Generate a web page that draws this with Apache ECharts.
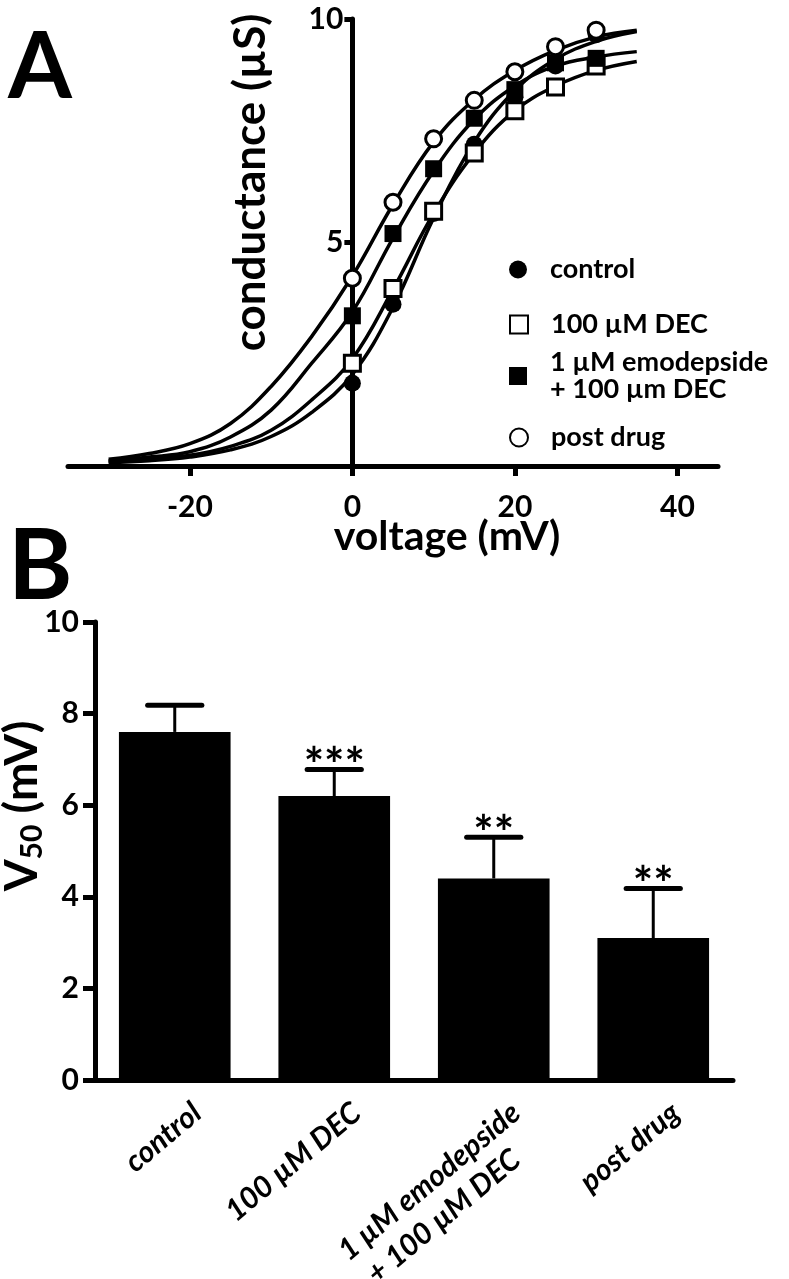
<!DOCTYPE html>
<html><head><meta charset="utf-8">
<script src="https://cdn.jsdelivr.net/npm/echarts@6/dist/echarts.min.js"></script>
<style>html,body{margin:0;padding:0;background:#fff}#c{width:789px;height:1279px}</style>
</head><body><div id="c"></div>
<script>
// ---- Panel A data ----
const voltages = [0, 5, 10, 15, 20, 25, 30];
const controlG = [1.85, 3.62, 5.65, 7.2, 8.25, 8.95, 9.65];
const decG = [2.3, 3.97, 5.7, 7.0, 7.95, 8.48, 8.95];
const emoG = [3.36, 5.2, 6.65, 7.78, 8.42, 9.02, 9.12];
const postG = [4.2, 5.9, 7.32, 8.18, 8.82, 9.38, 9.75];
// fitted curves
const fitV = [-30, -25, -20, -15, -10, -5, 0, 5, 10, 15, 20, 25, 30, 35];
const controlFit = [0.08, 0.12, 0.2, 0.36, 0.66, 1.2, 2.05, 3.55, 5.55, 7.25, 8.4, 9.1, 9.5, 9.72];
const decFit = [0.1, 0.15, 0.24, 0.44, 0.8, 1.48, 2.4, 3.95, 5.65, 7.0, 7.95, 8.5, 8.85, 9.05];
const emoFit = [0.12, 0.2, 0.32, 0.65, 1.25, 2.3, 3.45, 5.1, 6.6, 7.75, 8.5, 8.95, 9.15, 9.27];
const postFit = [0.15, 0.28, 0.5, 0.95, 1.78, 2.9, 4.25, 5.85, 7.25, 8.2, 8.85, 9.3, 9.6, 9.75];
const xTicksA = [-20, 0, 20, 40];
const xRangeA = [-35, 45];
const legendNames = ['control', '100 µM DEC', '1 µM emodepside\n+ 100 µm DEC', 'post drug'];
// ---- Panel B data ----
const categories = ['control', '100 µM DEC', '1 µM emodepside\n+ 100 µM DEC', 'post drug'];
const v50 = [7.6, 6.2, 4.4, 3.1];
const v50Sem = [0.58, 0.58, 0.9, 1.08];
const sig = ['', '***', '**', '**'];

const FONT = 'Lato';
const pairs = (xs, ys) => xs.map((x, i) => [x, ys[i]]);

const chart = echarts.init(document.getElementById('c'), null, {renderer: 'canvas'});

const gridA = {left: 68, top: 19, width: 650, height: 447};
const gridB = {left: 95, top: 622, width: 638, height: 458};
// y axis of panel A sits at voltage 0
const yAxisAOffset = -(0 - xRangeA[0]) / (xRangeA[1] - xRangeA[0]) * gridA.width;

const axisLineStyle = {color: '#000', width: 5};
const labelStyle = {color: '#000', fontFamily: FONT, fontWeight: 'bold', fontSize: 30};

function scatter(name, ys, symbol, filled) {
  return {
    type: 'scatter', name: name, xAxisIndex: 0, yAxisIndex: 0,
    data: pairs(voltages, ys), symbol: symbol, symbolSize: filled ? 17 : 16,
    itemStyle: filled ? {color: '#000', opacity: 1} : {color: '#fff', borderColor: '#000', borderWidth: 3, opacity: 1},
    z: 5
  };
}
function curve(ys) {
  return {
    type: 'line', xAxisIndex: 0, yAxisIndex: 0, data: pairs(fitV, ys),
    smooth: 0.4, symbol: 'none', lineStyle: {color: '#000', width: 3.5}, z: 3, silent: true
  };
}
const legendTops = [251, 306, 344, 419];
const legends = legendNames.map((n, i) => ({
  data: [n], left: 504, top: legendTops[i], orient: 'vertical',
  itemWidth: 18, itemHeight: 18, selectedMode: false,
  textStyle: {color: '#000', fontFamily: FONT, fontWeight: 'bold', fontSize: 27, lineHeight: 27, padding: [0, 0, 0, 18]}
}));

function renderErr(params, api) {
  const i = api.value(0);
  const m = api.value(1), e = api.value(2);
  const base = api.coord([i, m]);
  const top = api.coord([i, m + e]);
  const half = api.size([1, 0])[0] * 0.17;
  return {type: 'group', children: [
    {type: 'line', shape: {x1: base[0], y1: base[1], x2: top[0], y2: top[1]}, style: {stroke: '#000', lineWidth: 3}},
    {type: 'line', shape: {x1: top[0] - half, y1: top[1], x2: top[0] + half, y2: top[1]}, style: {stroke: '#000', lineWidth: 5, lineCap: 'round'}},
    {type: 'text', x: top[0], y: top[1] + 21, style: {text: sig[i], align: 'center', verticalAlign: 'bottom', font: 'bold 48px Lato', fill: '#000'}}
  ]};
}

// second line of a two-line category label sits a little back from the first
const catFormatter = v => v.split('\n').map((line, k) => k > 0 ? line + '{gap| }' : line).join('\n');

const option = {
  backgroundColor: '#fff',
  animation: false,
  legend: legends,
  graphic: [
    {type: 'text', left: 8, top: 22, style: {text: 'A', font: 'bold 92px Lato', fill: '#000'}},
    {type: 'text', left: 8, top: 518, style: {text: 'B', font: 'bold 98px Lato', fill: '#000'}}
  ],
  grid: [
    Object.assign({outerBoundsMode: 'none'}, gridA),
    Object.assign({outerBoundsMode: 'none'}, gridB)
  ],
  xAxis: [
    {
      type: 'value', gridIndex: 0, min: xRangeA[0], max: xRangeA[1],
      axisLine: {onZero: false, lineStyle: axisLineStyle},
      axisTick: {show: true, customValues: xTicksA, length: 10, lineStyle: {color: '#000', width: 5}},
      axisLabel: Object.assign({customValues: xTicksA, margin: 26}, labelStyle),
      splitLine: {show: false},
      name: 'voltage (mV)', nameLocation: 'middle', nameGap: 50, nameMoveOverlap: false,
      nameTextStyle: {color: '#000', fontFamily: FONT, fontWeight: 'bold', fontSize: 41, padding: [0, 0, 0, 108]}
    },
    {
      type: 'category', gridIndex: 1, data: categories,
      axisLine: {lineStyle: axisLineStyle},
      axisTick: {alignWithLabel: true, length: 12, lineStyle: {color: '#000', width: 5}},
      axisLabel: {rotate: 40, margin: 2, interval: 0, verticalAlign: 'top', padding: [17, 0, 0, 0],
        formatter: catFormatter,
        color: '#000', fontFamily: FONT, fontWeight: 'bold', fontStyle: 'italic', fontSize: 30, lineHeight: 36,
        rich: {gap: {width: 30, fontSize: 30, lineHeight: 36}}},
      splitLine: {show: false}
    }
  ],
  yAxis: [
    {
      type: 'value', gridIndex: 0, min: 0, max: 10, interval: 5, offset: yAxisAOffset,
      axisLine: {show: true, onZero: false, lineStyle: axisLineStyle},
      axisTick: {show: true, length: 8, lineStyle: {color: '#000', width: 5}},
      axisLabel: Object.assign({showMinLabel: false, margin: 9}, labelStyle),
      splitLine: {show: false},
      name: 'conductance (µS)', nameLocation: 'middle', nameGap: 80, nameMoveOverlap: false,
      nameTextStyle: {color: '#000', fontFamily: FONT, fontWeight: 'bold', fontSize: 44, padding: [0, 0, 0, 120]}
    },
    {
      type: 'value', gridIndex: 1, min: 0, max: 10, interval: 2,
      axisLine: {show: true, lineStyle: axisLineStyle},
      axisTick: {show: true, length: 12, lineStyle: {color: '#000', width: 5}},
      axisLabel: Object.assign({margin: 16}, labelStyle),
      splitLine: {show: false},
      name: '{v|V}{s|50}{v| (mV)}', nameLocation: 'middle', nameGap: 48, nameMoveOverlap: false,
      nameTextStyle: {color: '#000', padding: [0, 0, 0, 90], rich: {
        v: {fontFamily: FONT, fontWeight: 'bold', fontSize: 46, lineHeight: 50},
        s: {fontFamily: FONT, fontWeight: 'bold', fontSize: 30, lineHeight: 50, verticalAlign: 'bottom'}
      }}
    }
  ],
  series: [
    curve(controlFit), curve(decFit), curve(emoFit), curve(postFit),
    scatter(legendNames[0], controlG, 'circle', true),
    scatter(legendNames[1], decG, 'rect', false),
    scatter(legendNames[2], emoG, 'rect', true),
    scatter(legendNames[3], postG, 'circle', false),
    {
      type: 'bar', xAxisIndex: 1, yAxisIndex: 1, data: v50, barWidth: '70%',
      itemStyle: {color: '#000'}, z: 2
    },
    {
      type: 'custom', xAxisIndex: 1, yAxisIndex: 1, renderItem: renderErr,
      data: v50.map((m, i) => [i, m, v50Sem[i]]), z: 1
    }
  ]
};
chart.setOption(option);
</script></body></html>
